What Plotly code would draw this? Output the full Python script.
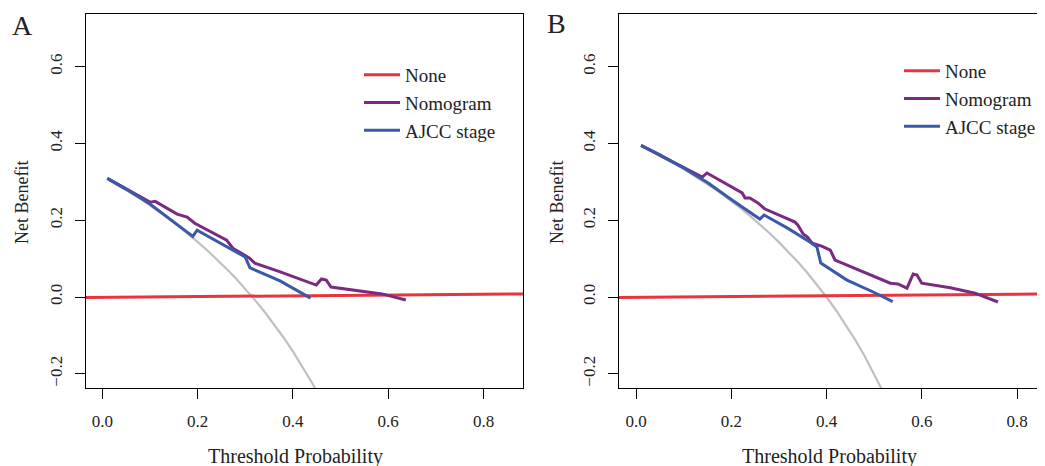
import plotly.graph_objects as go

# page body has an 8px margin, so the figure is drawn 8px in from the window corner
OFF = 8
W, H = 1045 - OFF, 466 - OFF


def px(x):
    return (x - OFF) / W


def py(y):
    return 1 - (y - OFF) / H


# ---------------- data ----------------
# Panel A
a_none_x = [-0.05, 0.90]
a_none_y = [-0.0015, 0.0082]
a_all_x = [0.0105, 0.02, 0.04, 0.06, 0.08, 0.10, 0.12, 0.14, 0.16, 0.18, 0.20, 0.22, 0.24,
           0.26, 0.28, 0.30, 0.32, 0.34, 0.36, 0.38, 0.40, 0.42, 0.44, 0.46]
a_all_y = [0.308, 0.301, 0.2865, 0.2713, 0.2554, 0.2389, 0.2216, 0.2035, 0.1845, 0.1646,
           0.1437, 0.1218, 0.0987, 0.0743, 0.0486, 0.0214, -0.0074, -0.0379, -0.0703,
           -0.1048, -0.1417, -0.1810, -0.2232, -0.2685]
a_nomo_x = [0.0105, 0.05, 0.069, 0.10, 0.111, 0.157, 0.178, 0.194, 0.261, 0.274, 0.292,
            0.309, 0.32, 0.372, 0.449, 0.46, 0.47, 0.48, 0.587, 0.637]
a_nomo_y = [0.309, 0.281, 0.268, 0.247, 0.249, 0.216, 0.208, 0.192, 0.148, 0.127, 0.114,
            0.101, 0.088, 0.066, 0.031, 0.047, 0.044, 0.026, 0.008, -0.008]
a_ajcc_x = [0.0105, 0.05, 0.10, 0.15, 0.19, 0.199, 0.30, 0.31, 0.373, 0.437]
a_ajcc_y = [0.309, 0.281, 0.242, 0.196, 0.158, 0.174, 0.104, 0.076, 0.042, -0.003]

# Panel B
b_none_x = [-0.05, 0.90]
b_none_y = [-0.0015, 0.0082]
b_all_x = [0.0105, 0.02, 0.04, 0.06, 0.08, 0.10, 0.12, 0.14, 0.16, 0.18, 0.20, 0.22, 0.24,
           0.26, 0.28, 0.30, 0.32, 0.34, 0.36, 0.38, 0.40, 0.42, 0.44, 0.46, 0.48, 0.50, 0.52]
b_all_y = [0.394, 0.3878, 0.375, 0.3617, 0.3478, 0.3333, 0.3182, 0.3023, 0.2857, 0.2683,
           0.25, 0.2308, 0.2105, 0.1892, 0.1667, 0.1429, 0.1176, 0.0909, 0.0625, 0.0323,
           0.0, -0.0345, -0.0714, -0.1111, -0.1538, -0.2, -0.25]
b_nomo_x = [0.0105, 0.05, 0.082, 0.139, 0.149, 0.212, 0.223, 0.229, 0.239, 0.256, 0.271,
            0.334, 0.340, 0.351, 0.360, 0.370, 0.391, 0.408, 0.418, 0.534, 0.550, 0.569,
            0.582, 0.590, 0.600, 0.660, 0.712, 0.760]
b_nomo_y = [0.395, 0.370, 0.349, 0.312, 0.323, 0.279, 0.271, 0.258, 0.258, 0.245, 0.229,
            0.195, 0.187, 0.164, 0.156, 0.140, 0.132, 0.122, 0.096, 0.036, 0.034, 0.023,
            0.060, 0.057, 0.036, 0.024, 0.010, -0.013]
b_ajcc_x = [0.0105, 0.05, 0.10, 0.15, 0.20, 0.26, 0.269, 0.32, 0.365, 0.38, 0.388, 0.443,
            0.498, 0.512, 0.539]
b_ajcc_y = [0.395, 0.370, 0.336, 0.298, 0.254, 0.203, 0.2135, 0.178, 0.143, 0.130, 0.0885,
            0.044, 0.013, 0.005, -0.012]

x_ticks = [0.0, 0.2, 0.4, 0.6, 0.8]
x_ticktext = ["0.0", "0.2", "0.4", "0.6", "0.8"]
y_ticks = [-0.2, 0.0, 0.2, 0.4, 0.6]
y_ticktext = ["\u22120.2", "0.0", "0.2", "0.4", "0.6"]

series_names = ["None", "Nomogram", "AJCC stage"]

# ---------------- styles ----------------
RED = "#E8343C"
PURPLE = "#7A2A80"
BLUE = "#3A59A8"
GRAY = "#C0C0C0"
TXT = "#222222"
FONT = "Liberation Serif"

fig = go.Figure()


def add_panel(xa, ya, legend, none_x, none_y, all_x, all_y, nx, ny, ax, ay):
    fig.add_trace(go.Scatter(x=all_x, y=all_y, mode="lines", line=dict(color=GRAY, width=2.2),
                             showlegend=False, xaxis=xa, yaxis=ya, hoverinfo="skip"))
    fig.add_trace(go.Scatter(x=none_x, y=none_y, mode="lines", name=series_names[0],
                             line=dict(color=RED, width=3), xaxis=xa, yaxis=ya, legend=legend))
    fig.add_trace(go.Scatter(x=nx, y=ny, mode="lines", name=series_names[1],
                             line=dict(color=PURPLE, width=3), xaxis=xa, yaxis=ya, legend=legend))
    fig.add_trace(go.Scatter(x=ax, y=ay, mode="lines", name=series_names[2],
                             line=dict(color=BLUE, width=3), xaxis=xa, yaxis=ya, legend=legend))


add_panel("x", "y", "legend", a_none_x, a_none_y, a_all_x, a_all_y,
          a_nomo_x, a_nomo_y, a_ajcc_x, a_ajcc_y)
add_panel("x2", "y2", "legend2", b_none_x, b_none_y, b_all_x, b_all_y,
          b_nomo_x, b_nomo_y, b_ajcc_x, b_ajcc_y)

y_dom = [py(388), py(14)]

common_x = dict(tickvals=x_ticks, ticktext=x_ticktext, ticks="outside", ticklen=10,
                tickwidth=1, tickcolor="black", showline=True, linecolor="black",
                linewidth=1, mirror=True, showgrid=False, zeroline=False,
                tickfont=dict(family=FONT, size=17, color=TXT), ticklabelstandoff=8)
common_y = dict(tickvals=y_ticks, ticktext=y_ticktext, ticks="outside", ticklen=10,
                tickwidth=1, tickcolor="black", showline=True, linecolor="black",
                linewidth=1, showgrid=False, zeroline=False, tickangle=-90,
                range=[-0.237, 0.737], domain=y_dom,
                tickfont=dict(family=FONT, size=17, color=TXT), ticklabelstandoff=6)

legend_common = dict(font=dict(family=FONT, size=19, color=TXT), bgcolor="rgba(0,0,0,0)",
                     borderwidth=0, xanchor="left", yanchor="top", itemwidth=36,
                     tracegroupgap=0, traceorder="normal")


def label(text, x, y, size, angle=0):
    return dict(text=text, x=px(x), y=py(y), xref="paper", yref="paper", showarrow=False,
                textangle=angle, xanchor="center", yanchor="middle",
                font=dict(family=FONT, size=size, color=TXT))


fig.update_layout(
    width=W, height=H, margin=dict(l=0, r=0, t=0, b=0),
    paper_bgcolor="white", plot_bgcolor="white",
    font=dict(family=FONT, color=TXT),
    xaxis=dict(domain=[px(86), px(523)], range=[-0.0342, 0.8829], anchor="y", **common_x),
    yaxis=dict(anchor="x", mirror=True, **common_y),
    xaxis2=dict(domain=[px(619), 1.0], range=[-0.0357, 0.8588], anchor="y2", **common_x),
    yaxis2=dict(anchor="x2", mirror=False, **common_y),
    legend=dict(x=px(359), y=py(56), **legend_common),
    legend2=dict(x=px(899), y=py(52), **legend_common),
    showlegend=True,
    annotations=[
        label("A", 22, 26, 28),
        label("B", 556, 24, 28),
        label("Net Benefit", 22, 203, 18, -90),
        label("Net Benefit", 557, 203, 18, -90),
        label("Threshold Probability", 295, 456, 20),
        label("Threshold Probability", 829, 456, 20),
    ],
)

fig.write_html("out.html")
